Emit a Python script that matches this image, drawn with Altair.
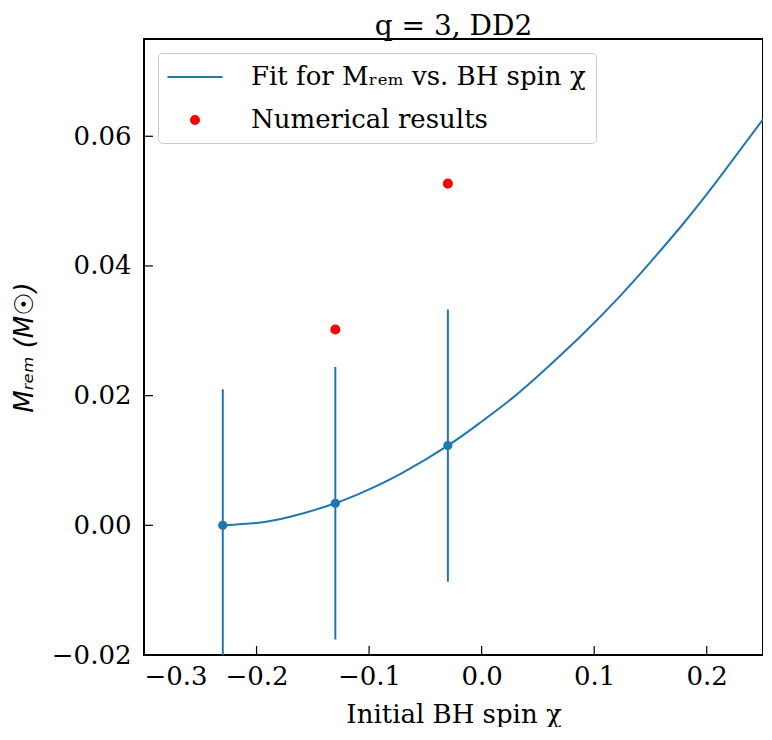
import altair as alt
import pandas as pd

# values
fit_x = [-0.23, -0.20, -0.17, -0.13, -0.10, -0.07, -0.03, 0.00, 0.03, 0.06,
         0.09, 0.12, 0.15, 0.18, 0.21, 0.25]
fit_y = [0.0, 0.00036, 0.00132, 0.0034, 0.00554, 0.00814, 0.0123, 0.0160, 0.0200,
         0.0246, 0.0295, 0.0348, 0.0406, 0.0467, 0.0533, 0.0626]

spin = [-0.23, -0.13, -0.03]
fit_at_spin = [0.0, 0.0034, 0.0123]
fit_err = [0.021, 0.021, 0.021]

num_spin = [-0.13, -0.03]
num_mrem = [0.0302, 0.0527]

x_ticks = [-0.3, -0.2, -0.1, 0.0, 0.1, 0.2]
y_ticks = [-0.02, 0.0, 0.02, 0.04, 0.06]

FIT_LABEL = "Fit for Mᵣₑₘ vs. BH spin χ"
NUM_LABEL = "Numerical results"
BLUE = "#1f77b4"
FONT = "DejaVu Serif"
W, H = 619, 616

fit_df = pd.DataFrame({"x": fit_x, "y": fit_y})
pts_df = pd.DataFrame({"x": spin, "y": fit_at_spin, "err": fit_err})
num_df = pd.DataFrame({"x": num_spin, "y": num_mrem, "series": NUM_LABEL})
xt_df = pd.DataFrame({"x": x_ticks})
yt_df = pd.DataFrame({"y": y_ticks})

xscale = alt.Scale(domain=[-0.3, 0.25], nice=False, zero=False)
yscale = alt.Scale(domain=[-0.02, 0.075], nice=False, zero=False)

xaxis = alt.Axis(title="Initial BH spin χ", values=x_ticks, format=".1f",
                 labelPadding=8, titlePadding=12)
yaxis = alt.Axis(title="Mᵣₑₘ (M☉)", values=y_ticks, format=".2f",
                 labelPadding=13, titlePadding=14,
                 titleFont="DejaVu Sans", titleFontStyle="italic")

# legend symbols: a long line for the fit, a small dot for the results
# (symbol size 676 -> 13 px per path unit)
SYM = 676
LINE_PATH = "M-2.12,0H2.12"
DOT_PATH = "M-0.31,0A0.31,0.31,0,1,1,0.31,0A0.31,0.31,0,1,1,-0.31,0Z"

legend = alt.Legend(
    title=None, orient="top-left", offset=14, padding=10,
    symbolSize=SYM, symbolStrokeWidth=2, symbolOpacity=1, symbolOffset=13,
    labelFont=FONT, labelFontSize=26, labelColor="black", labelOffset=42,
    labelLimit=600, rowPadding=16, strokeColor="#cccccc", cornerRadius=4,
    fillColor="rgba(255,255,255,0.8)",
)
dom = [FIT_LABEL, NUM_LABEL]
fill = alt.Fill("series:N", legend=legend, scale=alt.Scale(domain=dom, range=["transparent", "red"]))
stroke = alt.Stroke("series:N", legend=legend, scale=alt.Scale(domain=dom, range=[BLUE, "red"]))
shape = alt.Shape("series:N", legend=legend, scale=alt.Scale(domain=dom, range=[LINE_PATH, DOT_PATH]))

fit_line = alt.Chart(fit_df).mark_line(
    color=BLUE, strokeWidth=2, interpolate="natural", clip=True
).encode(
    x=alt.X("x:Q", scale=xscale, axis=xaxis),
    y=alt.Y("y:Q", scale=yscale, axis=yaxis),
)

errbars = alt.Chart(pts_df).transform_calculate(
    lo="datum.y - datum.err", hi="datum.y + datum.err"
).mark_rule(color=BLUE, strokeWidth=2, clip=True).encode(
    x="x:Q", y="lo:Q", y2="hi:Q"
)

fit_pts = alt.Chart(pts_df).mark_circle(color=BLUE, size=85, opacity=1).encode(
    x="x:Q", y="y:Q"
)

num_pts = alt.Chart(num_df).mark_point(
    filled=True, size=SYM, strokeWidth=2, opacity=1
).encode(
    x="x:Q", y="y:Q", fill=fill, stroke=stroke, shape=shape
)

# inward ticks like matplotlib's direction='in'
xtick_marks = alt.Chart(xt_df).mark_rule(color="black", strokeWidth=1.2).encode(
    x="x:Q", y=alt.value(H), y2=alt.value(H - 9)
)
ytick_marks = alt.Chart(yt_df).mark_rule(color="black", strokeWidth=1.2).encode(
    y="y:Q", x=alt.value(0), x2=alt.value(9)
)

chart = alt.layer(
    fit_line, errbars, fit_pts, num_pts, xtick_marks, ytick_marks
).properties(
    width=W, height=H,
    padding={"left": 3, "top": 5, "right": 0, "bottom": 0},
    title=alt.TitleParams("q = 3, DD2", font=FONT, fontSize=28,
                          fontWeight="normal", color="black", offset=-2),
).configure_view(
    stroke="black", strokeWidth=2
).configure_axis(
    grid=False, domain=False, ticks=False,
    labelFont=FONT, labelFontSize=26, labelColor="black",
    titleFont=FONT, titleFontSize=26, titleFontWeight="normal", titleColor="black",
)

chart.save("out.html", embed_options={"renderer": "svg", "actions": False})
